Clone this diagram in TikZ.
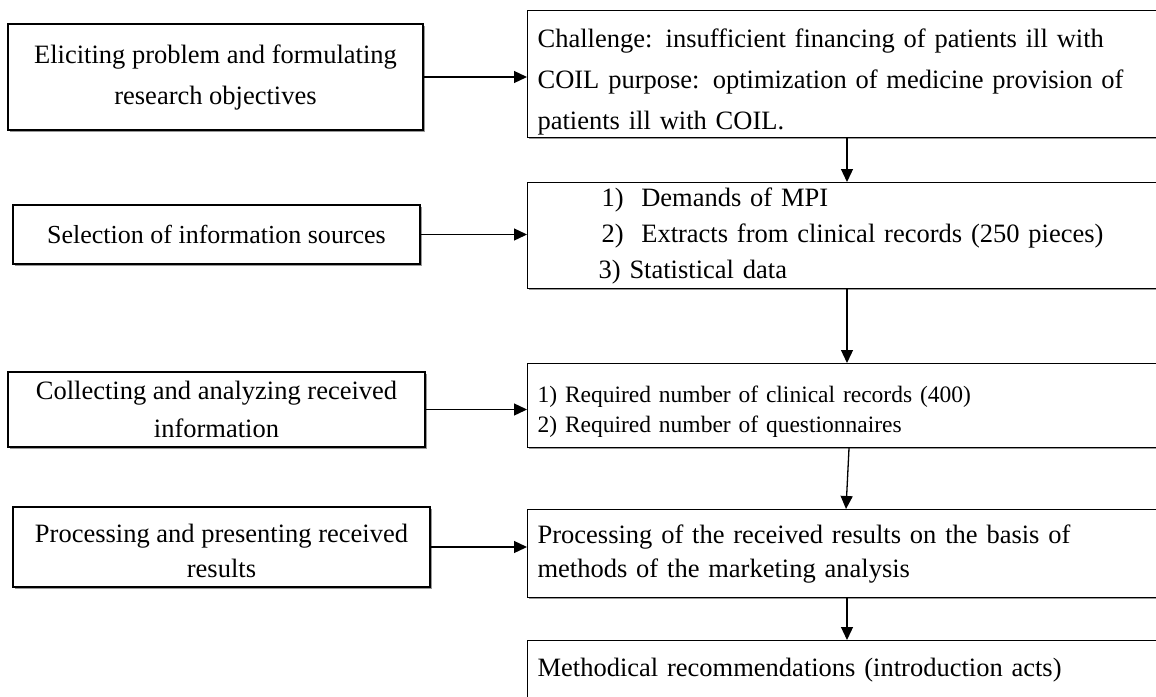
\documentclass[tikz,border=0pt]{standalone}
\usepackage{fontspec}
\setmainfont{Liberation Serif}
\usetikzlibrary{arrows.meta,shadows}
\newcommand{\lift}[1]{\rule{0pt}{#1}}
\begin{document}
\begin{tikzpicture}[x=1pt,y=-1pt,
  box/.style={draw=black, line width=1.2pt, fill=white, inner sep=0pt,
    drop shadow={shadow xshift=1.6pt, shadow yshift=-1.6pt, fill=black!40, opacity=1}},
  lbox/.style={box, align=center},
  rbox/.style={box, align=left, anchor=north west, minimum width=650pt, text width=630pt},
  txt/.style 2 args={font=\fontsize{#1}{#2}\selectfont},
  arr/.style={line width=1.3pt, -{Triangle[length=13pt,width=12pt]}}]
\useasboundingbox (0,0) rectangle (1156,696);
\clip (0,0) rectangle (1156,696);
\fill[white] (0,0) rectangle (1156,696);

% left column
\node[lbox, txt={26.5}{41}, minimum width=415pt, minimum height=106pt] (L1) at (215.5,77)
  {Eliciting problem and formulating\\research objectives};
\node[lbox, txt={26}{36}, minimum width=407pt, minimum height=59pt] (L2) at (216.5,234.5)
  {Selection of information sources};
\node[lbox, txt={26.5}{38}, minimum width=417pt, minimum height=75pt] (L3) at (216.5,409.5)
  {Collecting and analyzing received\\information};
\node[lbox, txt={26.5}{35}, minimum width=417pt, minimum height=80pt] (L4) at (221.5,547)
  {\lift{26pt}Processing and presenting received\\results};

% right column
\node[rbox, txt={26.5}{41}, minimum height=127pt] (R1) at (527,10)
  {\lift{35pt}Challenge: insufficient financing of patients ill with\\COIL purpose: optimization of medicine provision of\\patients ill with COIL.};
\node[rbox, txt={26.5}{36}, minimum height=106pt] (R2) at (527,182)
  {\hspace*{64pt}1)~~Demands of MPI\\\hspace*{64pt}2)~~Extracts from clinical records (250 pieces)\\\hspace*{61pt}3) Statistical data};
\node[rbox, txt={23.5}{30}, minimum height=84pt] (R3) at (527,363)
  {\lift{28pt}1) Required number of clinical records (400)\\2) Required number of questionnaires};
\node[rbox, txt={26.5}{34}, minimum height=88pt] (R4) at (527,509)
  {\makebox[607pt][s]{Processing of the received results on the basis of}\\methods of the marketing analysis};
\node[rbox, txt={26.5}{34}, minimum height=60pt] (R5) at (527,640)
  {Methodical recommendations (introduction acts)};

% connectors
\coordinate (vx) at (847,0);
\coordinate (vxa) at (849,0);
\coordinate (vxb) at (846,0);
\draw[arr] (L1.east) -- (L1.east -| R1.west);
\draw[arr] (L2.east) -- (L2.east -| R2.west);
\draw[arr] (L3.east) -- (L3.east -| R3.west);
\draw[arr] (L4.east) -- (L4.east -| R4.west);
\draw[arr] (R1.south -| vx) -- (R2.north -| vx);
\draw[arr] (R2.south -| vx) -- (R3.north -| vx);
\draw[arr] (R3.south -| vxa) -- (R4.north -| vxb);
\draw[arr] (R4.south -| vx) -- (R5.north -| vx);
\end{tikzpicture}
\end{document}
